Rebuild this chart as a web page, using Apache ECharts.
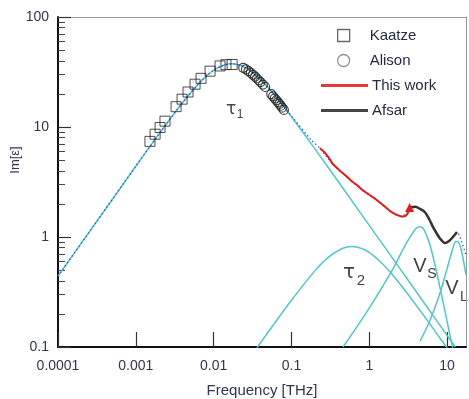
<!DOCTYPE html>
<html><head><meta charset="utf-8">
<script src="https://cdn.jsdelivr.net/npm/echarts@6/dist/echarts.min.js"></script>
<style>html,body{margin:0;padding:0;background:#fff}#c{width:469px;height:399px}</style>
</head><body><div id="c"></div>
<script>
// ---- data ----
const xTicks = [0.0001, 0.001, 0.01, 0.1, 1, 10];
const xTickLabels = ['0.0001', '0.001', '0.01', '0.1', '1', '10'];
const yMajor = [0.1, 1, 10, 100];
const yMajorLabels = ['0.1', '1', '10', '100'];
const yMinor = [0.2,0.3,0.4,0.5,0.6,0.7,0.8,0.9,2,3,4,5,6,7,8,9,20,30,40,50,60,70,80,90];

const tau1 = [[0.0001,0.441],[0.0003,1.32],[0.001,4.40],[0.002,8.70],[0.004,16.7],[0.007,26.4],[0.01,32.8],[0.014,36.8],[0.017,37.5],[0.022,36.3],[0.03,32.2],[0.05,22.9],[0.1,12.4],[0.2,6.33],[0.5,2.55],[1,1.275],[2,0.64],[5,0.255],[12.75,0.1]];
const tau2 = [[0.036,0.098],[0.05,0.136],[0.1,0.266],[0.2,0.492],[0.3,0.656],[0.45,0.787],[0.6,0.82],[0.8,0.787],[1,0.724],[1.5,0.566],[2,0.451],[3,0.315],[5,0.194],[8,0.122],[10,0.098]];
const vS = [[0.46,0.1],[1,0.226],[2,0.509],[3,0.878],[4,1.2],[4.5,1.24],[5,1.18],[6,0.856],[7,0.557],[8,0.362],[10,0.171],[12,0.093]];
const vL = [[4.5,0.113],[6,0.173],[8,0.3],[10,0.516],[12,0.811],[13,0.908],[14,0.9],[15,0.793],[16,0.645],[17.5,0.45]];
const totalFit = [[0.0001,0.441],[0.0003,1.32],[0.001,4.40],[0.002,8.70],[0.004,16.7],[0.007,26.4],[0.01,32.8],[0.014,36.8],[0.017,37.5],[0.022,36.3],[0.03,32.2],[0.05,22.9],[0.1,12.6],[0.18,7.6],[0.233,6.4],[0.34,4.6],[0.5,3.6],[0.83,2.65],[1.2,2.22],[1.85,1.72],[2.6,1.55],[3.4,1.8],[3.9,1.86],[4.5,1.8],[5.2,1.66],[6.6,1.23],[8.1,0.98],[9.4,0.89],[10.6,0.92],[11.9,1.0],[13.4,1.1],[15,0.95],[17.5,0.68]];
const thisWork = [[0.233,6.4],[0.26,6.0],[0.30,5.3],[0.34,4.6],[0.37,4.35],[0.42,4.0],[0.5,3.6],[0.6,3.2],[0.7,2.95],[0.83,2.65],[1.0,2.42],[1.2,2.22],[1.5,1.95],[1.85,1.72],[2.2,1.6],[2.6,1.53],[2.9,1.55],[3.1,1.62],[3.3,1.85]];
const afsar = [[3.4,1.86],[3.9,1.88],[4.5,1.8],[5.2,1.68],[5.9,1.45],[6.6,1.23],[7.4,1.07],[8.1,0.97],[9.4,0.88],[10.6,0.92],[11.9,1.0],[13.4,1.11]];
const kaatze = [[0.00152,7.4],[0.00177,8.6],[0.00205,9.9],[0.00237,11.3],[0.00329,15.3],[0.00393,17.9],[0.00469,20.8],[0.00577,24.5],[0.00689,27.7],[0.00899,32.2],[0.0121,35.9],[0.0144,36.9],[0.0173,37.0]];
const alison = [[0.024,34.5],[0.026,33.4],[0.028,32.2],[0.030,31.0],[0.032,29.8],[0.034,28.7],[0.036,27.6],[0.038,26.6],[0.040,25.6],[0.043,24.3],[0.046,23.1],[0.055,19.9],[0.058,19.0],[0.061,18.2],[0.064,17.5],[0.067,16.8],[0.070,16.2],[0.073,15.6],[0.076,15.0],[0.080,14.3]];

const cyan = '#52c6c6';
const labelColor = '#30354f';
const FONT = 'Liberation Sans, Arial';
function lookup(vals, labs){
  return v => { const i = vals.findIndex(t => Math.abs(Math.log10(t) - Math.log10(v)) < 0.01); return i >= 0 ? labs[i] : ''; };
}
const chart = echarts.init(document.getElementById('c'));
const fitLine = (name, data) => ({name, type:'line', data, showSymbol:false, symbol:'none', smooth:0.3, lineStyle:{color:cyan, width:1.5}, z:2, silent:true});
const legendText = {fontFamily: FONT, fontSize: 15, color: '#262a40'};
chart.setOption({
  animation: false,
  backgroundColor: '#fff',
  grid: {left: 58, right: 3, top: 17, bottom: 52, containLabel: false, outerBoundsMode: 'none'},
  legend: [{
    orient: 'vertical', left: 332, top: 23, itemWidth: 12, itemHeight: 12, itemGap: 10,
    textStyle: Object.assign({padding: [0,0,0,15]}, legendText),
    data: [
      {name: 'Kaatze', icon: 'rect', itemStyle: {color: '#fff', borderColor: '#444', borderWidth: 1.3}},
      {name: 'Alison', icon: 'circle', itemStyle: {color: '#fff', borderColor: '#777', borderWidth: 1.3}}
    ]
  }, {
    orient: 'vertical', left: 316, top: 73, itemWidth: 47, itemHeight: 3, itemGap: 10,
    textStyle: Object.assign({padding: [0,0,0,-1]}, legendText),
    data: [
      {name: 'This work', icon: 'rect', itemStyle: {color: '#e8383a'}},
      {name: 'Afsar', icon: 'rect', itemStyle: {color: '#444'}}
    ]
  }],
  xAxis: [{
    type: 'log', min: 0.0001, max: 17.5, logBase: 10,
    axisLine: {lineStyle: {color: '#111', width: 2}},
    axisTick: {inside: true, length: 15, customValues: xTicks, lineStyle: {color: '#333', width: 1.2}},
    axisLabel: {customValues: xTicks, formatter: lookup(xTicks, xTickLabels), color: labelColor, fontSize: 14, fontFamily: FONT, margin: 12},
    splitLine: {show: false},
    name: 'Frequency [THz]', nameLocation: 'middle', nameGap: 36,
    nameTextStyle: {color: labelColor, fontSize: 15, fontFamily: FONT}
  }, {
    type: 'log', min: 0.0001, max: 17.5, logBase: 10, position: 'top',
    axisLine: {show: true, lineStyle: {color: '#999', width: 1}},
    axisTick: {show: false}, axisLabel: {show: false}, splitLine: {show: false}
  }],
  yAxis: [{
    type: 'log', min: 0.1, max: 100, logBase: 10,
    axisLine: {show: true, lineStyle: {color: '#111', width: 2}},
    axisTick: {inside: true, length: 13, customValues: yMajor, lineStyle: {color: '#333', width: 1.2}},
    axisLabel: {customValues: yMajor, formatter: lookup(yMajor, yMajorLabels), color: labelColor, fontSize: 14, fontFamily: FONT, margin: 9},
    splitLine: {show: false}
  }, {
    type: 'log', min: 0.1, max: 100, logBase: 10, position: 'left',
    axisLine: {show: false},
    axisTick: {inside: true, length: 7, customValues: yMinor, lineStyle: {color: '#444', width: 1}},
    axisLabel: {show: false}, splitLine: {show: false}
  }, {
    type: 'log', min: 0.1, max: 100, logBase: 10, position: 'right',
    axisLine: {show: true, lineStyle: {color: '#999', width: 1}},
    axisTick: {show: false}, axisLabel: {show: false}, splitLine: {show: false}
  }],
  graphic: [
    {type:'text', x: 15, y: 160, rotation: Math.PI/2, style: {text: 'Im[ε]', fill: labelColor, font: '13px Liberation Sans, Arial', align: 'center', verticalAlign: 'middle'}},
    {type:'text', x: 231, y: 110, style: {text: 'τ', fill: '#444', font: '17px DejaVu Sans', align: 'center', verticalAlign: 'middle'}},
    {type:'text', x: 240, y: 115, style: {text: '1', fill: '#444', font: '12px Liberation Sans', align: 'center', verticalAlign: 'middle'}},
    {type:'text', x: 349, y: 273, style: {text: 'τ', fill: '#444', font: '20px DejaVu Sans', align: 'center', verticalAlign: 'middle'}},
    {type:'text', x: 361, y: 281, style: {text: '2', fill: '#444', font: '15px Liberation Sans', align: 'center', verticalAlign: 'middle'}},
    {type:'text', x: 420, y: 266, style: {text: 'V', fill: '#444', font: '20px Liberation Sans', align: 'center', verticalAlign: 'middle'}},
    {type:'text', x: 432, y: 274, style: {text: 'S', fill: '#444', font: '14px Liberation Sans', align: 'center', verticalAlign: 'middle'}},
    {type:'text', x: 452, y: 288, style: {text: 'V', fill: '#444', font: '20px Liberation Sans', align: 'center', verticalAlign: 'middle'}},
    {type:'text', x: 464, y: 297, style: {text: 'L', fill: '#444', font: '14px Liberation Sans', align: 'center', verticalAlign: 'middle'}}
  ],
  series: [
    fitLine('tau1', tau1), fitLine('tau2', tau2), fitLine('Vs', vS), fitLine('VL', vL),
    {name:'fit', type:'line', data: totalFit, showSymbol:false, symbol:'none', smooth:0.3, lineStyle:{color:'#3a5ad8', width:1.3, type:[1.5,2.5]}, z:3, silent:true},
    {name:'This work', type:'line', showSymbol:true, symbol:'none',
     data: thisWork.map((p, i) => i === thisWork.length - 1 ? {value: p, symbol: 'triangle', symbolSize: 9} : p),
     lineStyle:{color:'#e01c1c', width:2}, itemStyle:{color:'#e01c1c'}, z:4},
    {name:'Afsar', type:'line', data: afsar, showSymbol:false, symbol:'none', smooth:0.3, lineStyle:{color:'#333', width:2.5}, itemStyle:{color:'#444'}, z:4},
    {name:'Kaatze', type:'scatter', data: kaatze, symbol:'rect', symbolSize: 10, itemStyle:{color:'rgba(0,0,0,0)', borderColor:'#222', borderWidth:1}, z:5},
    {name:'Alison', type:'scatter', data: alison, symbol:'circle', symbolSize: 9, itemStyle:{color:'rgba(0,0,0,0)', borderColor:'#1a1a1a', borderWidth:1.2}, z:5}
  ]
});
</script>
</body></html>
